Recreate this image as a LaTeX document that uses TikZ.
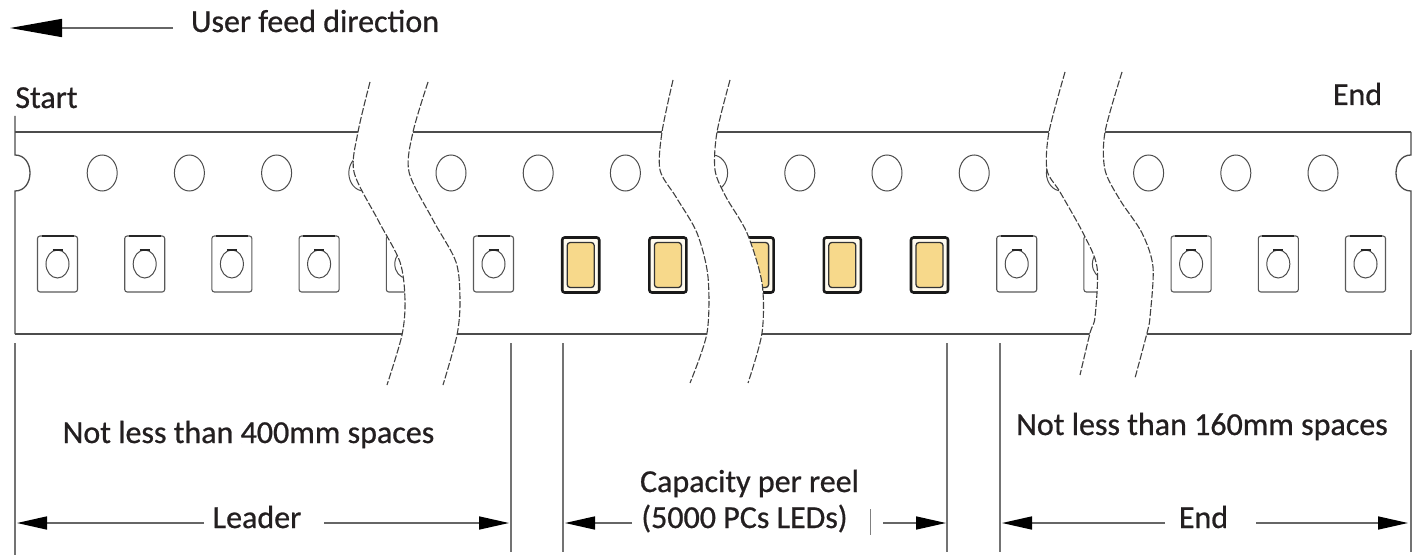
\documentclass[tikz,border=0pt]{standalone}
\usepackage{fontspec}
\setmainfont{Carlito}
\newfontfamily\lblfont{Carlito}[FakeBold=0.7]
\usetikzlibrary{arrows.meta}
\definecolor{ledyel}{HTML}{F7D98B}
\definecolor{ledcream}{HTML}{FFFBEF}
\definecolor{txt}{HTML}{231F20}
\begin{document}
\begin{tikzpicture}[x=1pt,y=-1pt,
  tape/.style={line width=1.3pt, draw=black!70},
  hole/.style={line width=1pt, draw=black!70},
  cut/.style={line width=1.1pt, draw=black!75, dash pattern=on 7pt off 2pt},
  ext/.style={line width=1.3pt, draw=black!55},
  dim/.style={line width=1.6pt, draw=black!60, -{Triangle[length=30pt,width=13pt,color=black]}},
  feed/.style={line width=1.6pt, draw=black!60, -{Triangle[length=52pt,width=18pt,color=black]}},
  lbl/.style={font=\lblfont\fontsize{32}{36}\selectfont, text=txt, inner sep=0pt},
  pocket/.pic={
    \draw[line width=1.1pt, draw=black!65, rounded corners=2.5pt] (-20,-28) rectangle (20,28);
    \draw[line width=2.2pt, draw=black!85] (-16,-28) -- (16,-28);
    \draw[line width=1pt, draw=black!70] (0,0) ellipse[x radius=11.5, y radius=14];
    \draw[line width=2pt, draw=black!85] (-5,-14) -- (5,-14);
  },
  ledpocket/.pic={
    \draw[line width=2.6pt, draw=black!90, fill=ledcream, rounded corners=2.5pt] (-18.5,-27.5) rectangle (18.5,27.5);
    \draw[line width=1.3pt, draw=black!80, fill=ledyel, rounded corners=3pt] (-13.5,-22.5) rectangle (13.5,22.5);
  }]
\useasboundingbox (0,0) rectangle (1418,556);

% tape outline
\draw[tape] (15,132) -- (1411,132);
\draw[tape] (15,334) -- (1411,334);
\draw[tape] (15,116) -- (15,155) .. controls (35,155) and (35,191) .. (15,191) -- (15,334);
\draw[tape] (1411,132) -- (1411,155) .. controls (1391,155) and (1391,191) .. (1411,191) -- (1411,334);

% sprocket holes
\foreach \k in {1,...,15} {
  \draw[hole] ({15+87.2*\k},173) ellipse[x radius=15, y radius=18];
}
% pockets
\foreach \k in {0,...,5,11,12,13,14,15} {
  \pic at ({57.5+87.2*\k},264) {pocket};
}
\foreach \k in {6,...,10} {
  \pic at ({57.5+87.2*\k},265) {ledpocket};
}

% breaks: white gaps
\fill[white] plot[smooth] coordinates {(370,82) (358,132) (354,172) (378,220) (400,262) (405,300) (402,335) (387,385)}
  -- plot[smooth] coordinates {(443,385) (457,335) (460,300) (456,262) (433,220) (409,172) (413,132) (428,82)} -- cycle;
\fill[white] plot[smooth] coordinates {(673,80) (662,132) (660,170) (676,197) (697,233) (708,277) (707,333) (690,383)}
  -- plot[smooth] coordinates {(748,383) (762,333) (762,283) (747,233) (726,197) (715,170) (717,132) (730,80)} -- cycle;
\fill[white] plot[smooth] coordinates {(1065,72) (1049,132) (1047,170) (1060,192) (1083,233) (1097,267) (1095,317) (1090,333) (1080,375)}
  -- plot[smooth] coordinates {(1135,378) (1147,333) (1150,317) (1153,267) (1142,233) (1120,200) (1105,170) (1105,132) (1122,72)} -- cycle;
% breaks: cut lines
\draw[cut] plot[smooth] coordinates {(370,82) (358,132) (354,172) (378,220) (400,262) (405,300) (402,335) (387,385)};
\draw[cut] plot[smooth] coordinates {(428,82) (413,132) (409,172) (433,220) (456,262) (460,300) (457,335) (443,385)};
\draw[cut] plot[smooth] coordinates {(673,80) (662,132) (660,170) (676,197) (697,233) (708,277) (707,333) (690,383)};
\draw[cut] plot[smooth] coordinates {(730,80) (717,132) (715,170) (726,197) (747,233) (762,283) (762,333) (748,383)};
\draw[cut] plot[smooth] coordinates {(1065,72) (1049,132) (1047,170) (1060,192) (1083,233) (1097,267) (1095,317) (1090,333) (1080,375)};
\draw[cut] plot[smooth] coordinates {(1122,72) (1105,132) (1105,170) (1120,200) (1142,233) (1153,267) (1150,317) (1147,333) (1135,378)};

% labels
\node[lbl, anchor=base] (ufd) at (315,32) {User feed direction};
\node[lbl, anchor=base] (start) at (46.5,108) {Start};
\node[lbl, anchor=base] (endtop) at (1357.5,105) {End};
\node[lbl, anchor=base] (nl400) at (248.5,443) {Not less than 400mm spaces};
\node[lbl, anchor=base] (nl160) at (1202,435) {Not less than 160mm spaces};
\node[lbl, anchor=base] (leader) at (257,528) {Leader};
\node[lbl, anchor=base] (cap1) at (749.5,492) {Capacity per reel};
\node[lbl, anchor=base] (cap2) at (744.5,528) {(5000 PCs LEDs)};
\node[lbl, anchor=base] (endb) at (1203.5,528) {End};

% feed direction arrow
\coordinate (fa1) at (173,28);
\coordinate (fa2) at (10,28);
\draw[feed] (fa1) -- (fa2);

% extension lines
\coordinate (e1t) at (15,343);  \coordinate (e1b) at (15,555);
\coordinate (e2t) at (511,343); \coordinate (e2b) at (511,552);
\coordinate (e3t) at (563,343); \coordinate (e3b) at (563,552);
\coordinate (e4t) at (947,343); \coordinate (e4b) at (947,552);
\coordinate (e5t) at (1000,343); \coordinate (e5b) at (1000,552);
\coordinate (e6t) at (1411,350); \coordinate (e6b) at (1411,552);
\foreach \i in {1,...,6} { \draw[ext] (e\i t) -- (e\i b); }

% dimension arrows
\coordinate (la) at (204,523);  \coordinate (lat) at (17,523);
\coordinate (lb) at (324,523);  \coordinate (lbt) at (509,523);
\coordinate (ca) at (632,523);  \coordinate (cat) at (565,523);
\coordinate (cb) at (883,523);  \coordinate (cbt) at (946,523);
\coordinate (ea) at (1165,523); \coordinate (eat) at (1002,523);
\coordinate (eb) at (1256,523); \coordinate (ebt) at (1408,523);
\draw[dim] (la) -- (lat);
\draw[dim] (lb) -- (lbt);
\draw[dim] (ca) -- (cat);
\draw[dim] (cb) -- (cbt);
\draw[dim] (ea) -- (eat);
\draw[dim] (eb) -- (ebt);
% small tick after the capacity text
\coordinate (tk1) at (870,509); \coordinate (tk2) at (870,535);
\draw[line width=1pt, draw=black!50] (tk1) -- (tk2);
\end{tikzpicture}
\end{document}
